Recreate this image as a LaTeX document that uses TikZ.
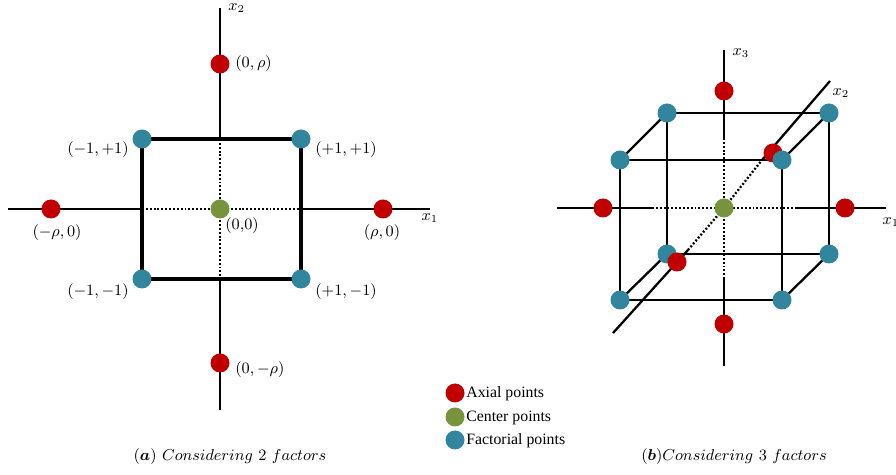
\documentclass[tikz,border=0pt]{standalone}
\usepackage{fontspec}
\usepackage{amsmath}
\newfontfamily\legendfont{Liberation Serif}
\definecolor{axialred}{HTML}{C00000}
\definecolor{centergreen}{HTML}{77933C}
\definecolor{factblue}{HTML}{31859C}
\begin{document}
\begin{tikzpicture}[x=0.02cm,y=-0.02cm,
  font=\fontsize{9}{11}\selectfont,
  dotpt/.style={circle,inner sep=0pt,minimum size=0.38cm},
  axial/.style={dotpt,fill=axialred},
  centre/.style={dotpt,fill=centergreen},
  fact/.style={dotpt,fill=factblue},
  axisline/.style={line width=1.3pt},
  frameline/.style={line width=2pt},
  edgeline/.style={line width=1.3pt},
  dotline/.style={line width=1.3pt,dash pattern=on 1.1pt off 1.1pt},
  lbl/.style={inner sep=0pt},
  legendtext/.style={inner sep=0pt,anchor=west,font=\legendfont\fontsize{9}{11}\selectfont}]
\useasboundingbox (0,0) rectangle (896,475);

% ---------- (a) two factors ----------
\coordinate (aTop) at (220,8);
\coordinate (aBot) at (220,410);
\coordinate (aLeft) at (8,209);
\coordinate (aRight) at (430,209);
\coordinate (sqT) at (220,139);
\coordinate (sqB) at (220,279);
\coordinate (sqL) at (142,209);
\coordinate (sqR) at (301,209);
\coordinate (cTL) at (142,139);
\coordinate (cTR) at (301,139);
\coordinate (cBR) at (301,279);
\coordinate (cBL) at (142,279);
\coordinate (o2) at (220,209);

\draw[axisline] (aTop) -- (sqT);
\draw[axisline] (sqB) -- (aBot);
\draw[axisline] (aLeft) -- (sqL);
\draw[axisline] (sqR) -- (aRight);
\draw[dotline] (sqT) -- (sqB);
\draw[dotline] (sqL) -- (sqR);
\draw[frameline] (cTL) -- (cTR) -- (cBR) -- (cBL) -- cycle;

\node[axial] (aN) at (220,64) {};
\node[axial] (aS) at (220,363) {};
\node[axial] (aW) at (51,209) {};
\node[axial] (aE) at (383,209) {};
\node[fact] (fTL) at (cTL) {};
\node[fact] (fTR) at (cTR) {};
\node[fact] (fBR) at (cBR) {};
\node[fact] (fBL) at (cBL) {};
\node[centre] (ctr2) at (o2) {};

\node[lbl,anchor=west] (lx2) at (228,8) {$x_2$};
\node[lbl,anchor=west] (lN) at (235,64) {$(0,\rho)$};
\node[lbl,anchor=east] (lTL) at (129,150) {$(-1,+1)$};
\node[lbl,anchor=west] (lTR) at (315,150) {$(+1,+1)$};
\node[lbl] (lW) at (57,233) {$(-\rho,0)$};
\node[lbl,anchor=west] (lO) at (225,226) {$(0{,}0)$};
\node[lbl] (lE) at (382,233) {$(\rho,0)$};
\node[lbl] (lx1) at (430,218) {$x_1$};
\node[lbl,anchor=east] (lBL) at (129,292) {$(-1,-1)$};
\node[lbl,anchor=west] (lBR) at (315,292) {$(+1,-1)$};
\node[lbl,anchor=west] (lS) at (235,370) {$(0,-\rho)$};

\node[lbl] (capA) at (230,457) {$(\boldsymbol{a})\ Considering\ 2\ factors$};

% ---------- (b) three factors ----------
\coordinate (o3) at (724,208);
\coordinate (zTop) at (724,50);
\coordinate (zA) at (724,138);
\coordinate (zB) at (724,277);
\coordinate (zBot) at (724,366);
\coordinate (xLeft) at (557,208);
\coordinate (xA) at (652,208);
\coordinate (xB) at (797,208);
\coordinate (xRight) at (886,208);
\coordinate (yFront) at (613,333);
\coordinate (yA) at (688,250);
\coordinate (yB) at (762,160);
\coordinate (yBack) at (830,81);

\coordinate (F1) at (620,160);
\coordinate (F2) at (782,160);
\coordinate (F3) at (782,300);
\coordinate (F4) at (620,300);
\coordinate (B1) at (667,113);
\coordinate (B2) at (829,113);
\coordinate (B3) at (829,254);
\coordinate (B4) at (667,254);

\draw[axisline] (zTop) -- (zA);
\draw[dotline] (zA) -- (zB);
\draw[axisline] (zB) -- (zBot);
\draw[axisline] (xLeft) -- (xA);
\draw[dotline] (xA) -- (xB);
\draw[axisline] (xB) -- (xRight);
\draw[axisline] (yFront) -- (yA);
\draw[dotline] (yA) -- (o3) -- (yB);
\draw[axisline] (yB) -- (yBack);

\draw[edgeline] (F1) -- (F2) -- (F3) -- (F4) -- cycle;
\draw[edgeline] (B1) -- (B2) -- (B3) -- (B4) -- cycle;
\draw[edgeline] (F1) -- (B1);
\draw[edgeline] (F2) -- (B2);
\draw[edgeline] (F3) -- (B3);
\draw[edgeline] (F4) -- (B4);

\node[fact] (b1) at (B1) {};
\node[fact] (b2) at (B2) {};
\node[fact] (b3) at (B3) {};
\node[fact] (b4) at (B4) {};
\node[axial] (rUp) at (724,91) {};
\node[axial] (rDown) at (724,324) {};
\node[axial] (rLeft) at (603,208) {};
\node[axial] (rRight) at (845,208) {};
\node[axial] (rBack) at (773,153) {};
\node[axial] (rFront) at (677,262) {};
\node[fact] (f1) at (F1) {};
\node[fact] (f2) at (F2) {};
\node[fact] (f3) at (F3) {};
\node[fact] (f4) at (F4) {};
\node[centre] (ctr3) at (o3) {};

\node[lbl] (lz) at (741,53) {$x_3$};
\node[lbl] (ly) at (841,93) {$x_2$};
\node[lbl] (lx) at (891,222) {$x_1$};

\node[lbl] (capB) at (734,457) {$(\boldsymbol{b})Considering\ 3\ factors$};

% ---------- legend ----------
\node[axial] (kA) at (455,393) {};
\node[centre] (kC) at (455,417) {};
\node[fact] (kF) at (455,440) {};
\node[legendtext] (tA) at (466,394) {Axial points};
\node[legendtext] (tC) at (466,418) {Center points};
\node[legendtext] (tF) at (466,441) {Factorial points};
\end{tikzpicture}
\end{document}
